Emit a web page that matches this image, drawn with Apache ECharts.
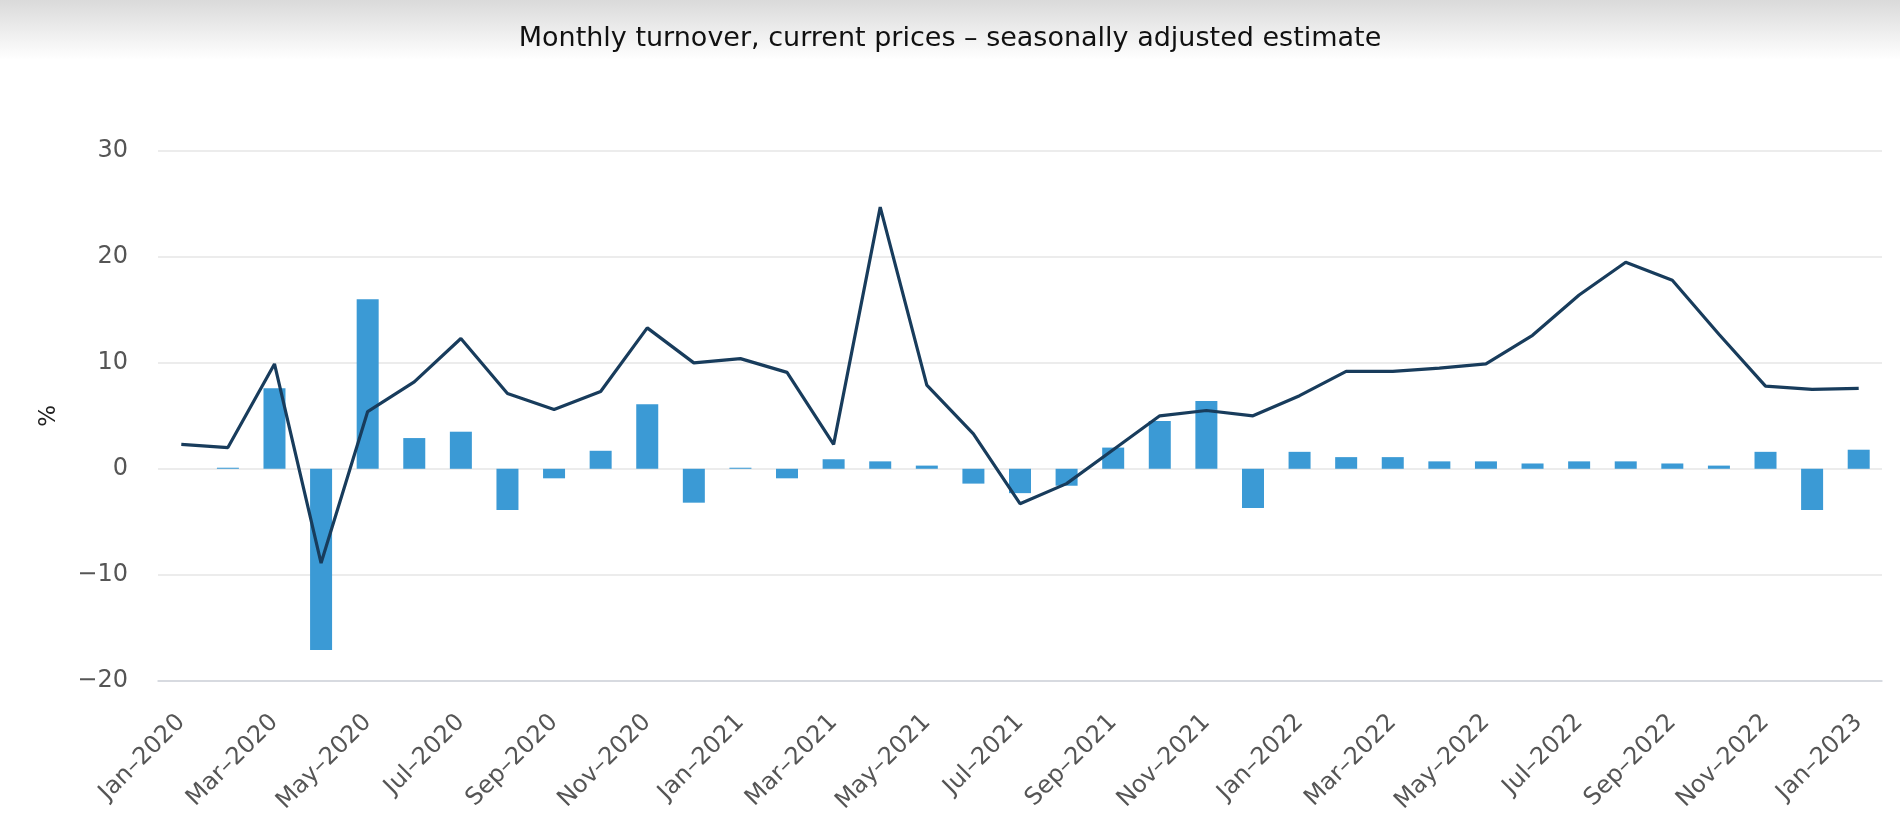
<!DOCTYPE html>
<html>
<head>
<meta charset="utf-8">
<script src="https://cdn.jsdelivr.net/npm/echarts@6/dist/echarts.min.js"></script>
<style>
html,body{margin:0;padding:0;background:#fff;}
#chart{width:1900px;height:816px;}
</style>
</head>
<body>
<div id="chart"></div>
<script>
var titleText = 'Monthly turnover, current prices – seasonally adjusted estimate';
var months = [
  'Jan–2020','Feb–2020','Mar–2020','Apr–2020','May–2020','Jun–2020','Jul–2020','Aug–2020','Sep–2020','Oct–2020','Nov–2020','Dec–2020',
  'Jan–2021','Feb–2021','Mar–2021','Apr–2021','May–2021','Jun–2021','Jul–2021','Aug–2021','Sep–2021','Oct–2021','Nov–2021','Dec–2021',
  'Jan–2022','Feb–2022','Mar–2022','Apr–2022','May–2022','Jun–2022','Jul–2022','Aug–2022','Sep–2022','Oct–2022','Nov–2022','Dec–2022',
  'Jan–2023'
];
var monthlyChange = [
  null, 0.1, 7.6, -17.1, 16.0, 2.9, 3.5, -3.9, -0.9, 1.7, 6.1, -3.2,
  0.1, -0.9, 0.9, 0.7, 0.3, -1.4, -2.3, -1.6, 2.0, 4.5, 6.4, -3.7,
  1.6, 1.1, 1.1, 0.7, 0.7, 0.5, 0.7, 0.7, 0.5, 0.3, 1.6, -3.9,
  1.8
];
var annualChange = [
  2.3, 2.0, 9.9, -8.9, 5.4, 8.2, 12.3, 7.1, 5.6, 7.3, 13.3, 10.0,
  10.4, 9.1, 2.3, 24.7, 7.9, 3.3, -3.3, -1.4, 1.8, 5.0, 5.5, 5.0,
  6.9, 9.2, 9.2, 9.5, 9.9, 12.6, 16.4, 19.5, 17.8, 12.7, 7.8, 7.5,
  7.6
];
var yMin = -20, yMax = 30, yStep = 10;
var yAxisName = '%';

var chart = echarts.init(document.getElementById('chart'), null, {renderer:'canvas'});
chart.setOption({
  animation: false,
  backgroundColor: '#ffffff',
  graphic: [{
    type: 'rect', z: -10, silent: true,
    shape: {x: 0, y: 0, width: 1900, height: 60},
    style: {fill: new echarts.graphic.LinearGradient(0, 0, 0, 1, [
      {offset: 0, color: '#dadada'}, {offset: 1, color: '#ffffff'}
    ])}
  }],
  title: {
    text: titleText,
    left: 'center',
    top: 20,
    textStyle: {fontFamily: 'DejaVu Sans', fontSize: 27, fontWeight: 'normal', color: '#111'}
  },
  grid: {left: 158, right: 18, top: 151, bottom: 131, containLabel: false},
  xAxis: {
    type: 'category',
    data: months,
    boundaryGap: true,
    axisLine: {onZero: false, lineStyle: {color: '#cfd4dc', width: 1.5}},
    axisTick: {show: false},
    axisLabel: {
      interval: 1, rotate: 45, margin: 38,
      fontFamily: 'DejaVu Sans', fontSize: 24, color: '#555'
    }
  },
  yAxis: {
    type: 'value',
    min: yMin, max: yMax, interval: yStep,
    name: yAxisName,
    nameLocation: 'middle',
    nameGap: 97,
    nameRotate: 90,
    nameTextStyle: {fontFamily: 'DejaVu Sans', fontSize: 23, color: '#222'},
    axisLine: {show: false},
    axisTick: {show: false},
    axisLabel: {
      margin: 30, fontFamily: 'DejaVu Sans', fontSize: 24, color: '#555',
      formatter: function (v) { return String(v).replace('-', '\u2212'); }
    },
    splitLine: {lineStyle: {color: '#e6e6e6', width: 1.5}}
  },
  series: [
    {
      type: 'bar',
      data: monthlyChange,
      barWidth: 22,
      itemStyle: {color: '#3b9ad5'},
      z: 2
    },
    {
      type: 'line',
      data: annualChange,
      showSymbol: false,
      symbol: 'none',
      lineStyle: {color: '#183c5c', width: 3.2},
      z: 3
    }
  ]
});
</script>
</body>
</html>
